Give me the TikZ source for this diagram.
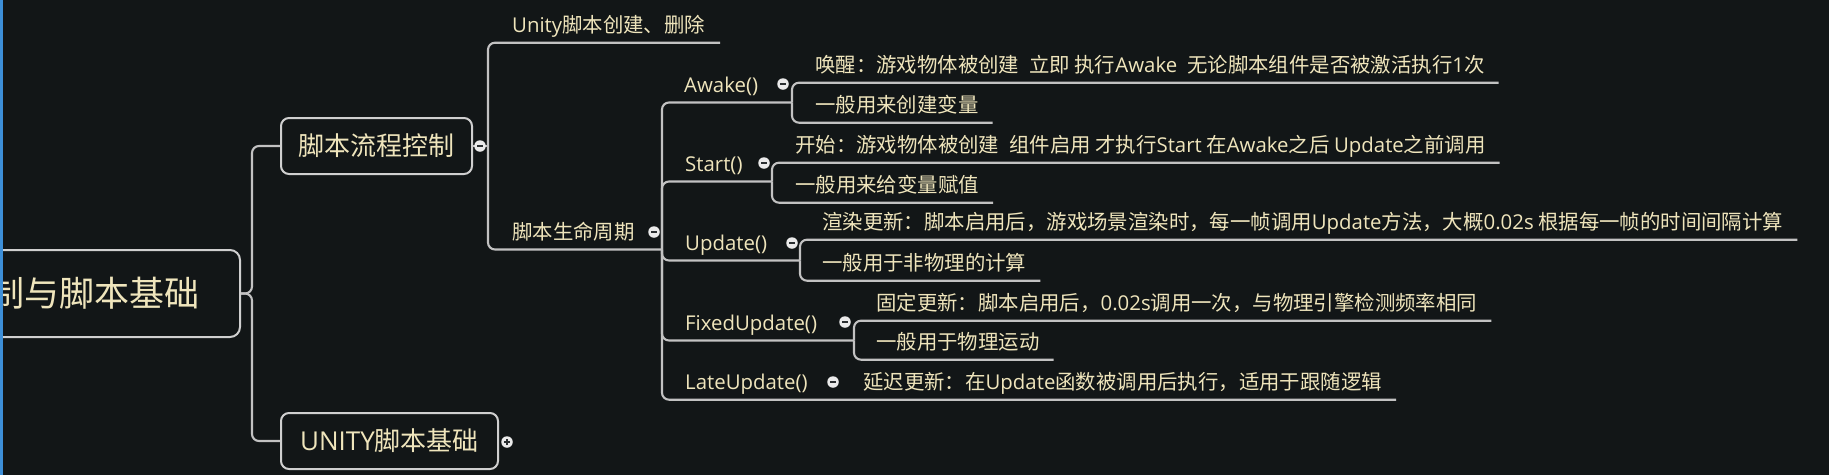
\documentclass[tikz,border=0pt]{standalone}
\usepackage{fontspec}
\setmainfont{Noto Sans CJK SC}
\newfontfamily\lat{Open Sans}
\definecolor{bgc}{HTML}{121617}
\definecolor{txtc}{HTML}{EFE5BC}
\definecolor{linec}{HTML}{C2C2C2}
\definecolor{boxc}{HTML}{CFCFCF}
\definecolor{btnc}{HTML}{EAEAEA}
\definecolor{btnm}{HTML}{2A2E30}
\definecolor{edgec}{HTML}{3D8FD8}
\tikzset{
  conn/.style={draw=linec, line width=2.1pt, rounded corners=7pt},
  leaf/.style={text=txtc, font=\fontsize{20.4}{24}\selectfont, inner xsep=0pt, inner ysep=0pt,
    text height=25pt, text depth=10pt, anchor=west},
  topbox/.style={draw=boxc, line width=2pt, rounded corners=8pt, fill=bgc, text=txtc,
    font=\fontsize{26}{30}\selectfont, minimum height=56pt, inner sep=0pt},
  rootbox/.style={draw=boxc, line width=2pt, rounded corners=10pt, fill=bgc, text=txtc,
    font=\fontsize{35}{40}\selectfont, minimum height=87pt, inner xsep=40pt, inner ysep=0pt},
  btn/.style={circle, fill=btnc, minimum size=11.5pt, inner sep=0pt},
  btnminus/.style={btn, path picture={\draw[draw=btnm, line width=1.6pt]
      ([xshift=-3pt]path picture bounding box.center) -- ([xshift=3pt]path picture bounding box.center);}},
  btnplus/.style={btn, path picture={\draw[draw=btnm, line width=1.4pt]
      ([xshift=-3pt]path picture bounding box.center) -- ([xshift=3pt]path picture bounding box.center)
      ([yshift=-3pt]path picture bounding box.center) -- ([yshift=3pt]path picture bounding box.center);}}
}
\begin{document}
\begin{tikzpicture}[x=1pt,y=-1pt]
\useasboundingbox (0,0) rectangle (1829,475);
\fill[bgc] (0,0) rectangle (1829,475);

% main boxes
\node[rootbox, anchor=east] (root) at (241,293.5) {制与脚本基础};
\node[topbox, minimum width=191pt] (n1) at (376.5,146) {脚本流程控制};
\node[topbox, minimum width=217pt] (n2) at (389.5,441) {{\lat UNITY}脚本基础};

% level-2 topics
\node[leaf] (t1) at (512,25) {{\lat Unity}脚本创建、删除};
\node[leaf] (t2) at (512,232) {脚本生命周期};

% level-3 topics
\node[leaf] (aw) at (684,85) {{\lat Awake()}};
\node[leaf] (st) at (685,164) {{\lat Start()}};
\node[leaf] (up) at (685,243) {{\lat Update()}};
\node[leaf] (fu) at (685,323) {{\lat FixedUpdate()}};
\node[leaf] (lu) at (685,382) {{\lat LateUpdate()}};

% leaves
\node[leaf] (aw1) at (815,65) {唤醒：游戏物体被创建\hspace{10pt}立即 执行{\lat Awake}\hspace{10pt}无论脚本组件是否被激活执行{\lat 1}次};
\node[leaf] (aw2) at (815,105) {一般用来创建变量};
\node[leaf] (st1) at (795,145) {开始：游戏物体被创建\hspace{10pt}组件启用 才执行{\lat Start} 在{\lat Awake}之后 {\lat Update}之前调用};
\node[leaf] (st2) at (795,185) {一般用来给变量赋值};
\node[leaf] (up1) at (822,222) {渲染更新：脚本启用后，游戏场景渲染时，每一帧调用{\lat Update}方法，大概{\lat 0.02s} 根据每一帧的时间间隔计算};
\node[leaf] (up2) at (822,263) {一般用于非物理的计算};
\node[leaf] (fu1) at (876,303) {固定更新：脚本启用后，{\lat 0.02s}调用一次，与物理引擎检测频率相同};
\node[leaf] (fu2) at (876,342) {一般用于物理运动};
\node[leaf] (lu1) at (863,382) {延迟更新：在{\lat Update}函数被调用后执行，适用于跟随逻辑};

% spine points
\coordinate (s0) at (252,293.5);
\coordinate (s1) at (488,146);
\coordinate (lsp) at (662,249.5);
\coordinate (awsp) at (792,102.5);
\coordinate (stsp) at (772,181.5);
\coordinate (upsp) at (800,260.5);
\coordinate (fusp) at (854,340.5);

% connectors
\draw[conn] (root.east) -- (s0) |- (n1.west);
\draw[conn] (root.east) -- (s0) |- (n2.west);
\draw[conn] (n1.east) -- (s1);
\draw[conn] (s1) |- ([xshift=15pt]t1.south east);
\draw[conn] (s1) |- (lsp);
\draw[conn] (lsp) |- (awsp);
\draw[conn] (lsp) |- (stsp);
\draw[conn] (lsp) |- (upsp);
\draw[conn] (lsp) |- (fusp);
\draw[conn] (lsp) |- ([xshift=14pt]lu1.south east);
\draw[conn] (awsp) |- ([xshift=14pt]aw1.south east);
\draw[conn] (awsp) |- ([xshift=14pt]aw2.south east);
\draw[conn] (stsp) |- ([xshift=14pt]st1.south east);
\draw[conn] (stsp) |- ([xshift=14pt]st2.south east);
\draw[conn] (upsp) |- ([xshift=14pt]up1.south east);
\draw[conn] (upsp) |- ([xshift=14pt]up2.south east);
\draw[conn] (fusp) |- ([xshift=14pt]fu1.south east);
\draw[conn] (fusp) |- ([xshift=14pt]fu2.south east);

% collapse buttons
\node[btnminus] (cn1) at (480,146) {};
\node[btnplus] (cn2) at (507,442) {};
\node[btnminus] (ct2) at (654,232) {};
\node[btnminus] (caw) at (783,84) {};
\node[btnminus] (cst) at (764,163) {};
\node[btnminus] (cup) at (792,243) {};
\node[btnminus] (cfu) at (845,322) {};
\node[btnminus] (clu) at (833,382) {};

% window edge
\fill[edgec] (0,0) rectangle (3,475);
\end{tikzpicture}
\end{document}
